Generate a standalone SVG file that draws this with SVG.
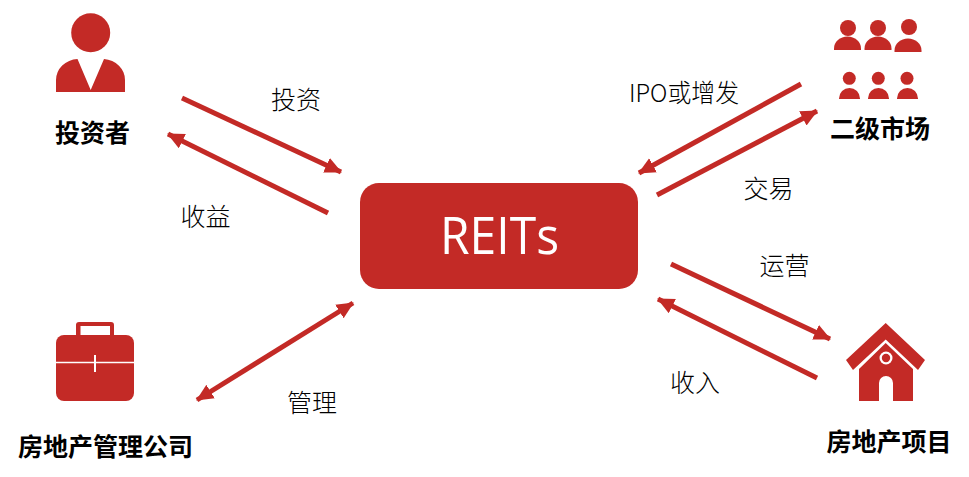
<svg xmlns="http://www.w3.org/2000/svg" width="969" height="477" viewBox="0 0 969 477">
<style>
  .red { fill: #c32a26; }
  .link { stroke: #c32a26; stroke-width: 5; fill: none; }
  text { font-family: "Noto Sans CJK SC", "Noto Sans", sans-serif; fill: #000; }
  .lab { font-size: 25px; font-weight: 300; }
  .name { font-size: 25px; font-weight: 700; }
</style>
<defs>
  <marker id="tip" markerUnits="userSpaceOnUse" markerWidth="18" markerHeight="18" refX="16" refY="8" orient="auto-start-reverse">
    <path d="M0 0L17 8L0 16Z" fill="#c32a26"/>
  </marker>
  <path id="b1" d="M-13.5 11.5V10A13.5 12 0 0 1 13.500 10V11.500Z"/>
  <path id="b2" d="M-10.500 5.500V5A10.500 10.500 0 0 1 10.500 5V5.500Z"/>
</defs>
<rect width="969" height="477" fill="#fff"/>

<g id="connectors">
  <line class="link" x1="182" y1="98" x2="341" y2="172" marker-end="url(#tip)"/>
  <line class="link" x1="328" y1="213" x2="168" y2="134" marker-end="url(#tip)"/>
  <line class="link" x1="801" y1="84" x2="639" y2="173" marker-end="url(#tip)"/>
  <line class="link" x1="657" y1="195" x2="817" y2="111" marker-end="url(#tip)"/>
  <line class="link" x1="671" y1="264" x2="830" y2="339" marker-end="url(#tip)"/>
  <line class="link" x1="817" y1="378" x2="658" y2="299" marker-end="url(#tip)"/>
  <line class="link" x1="197" y1="400" x2="353" y2="303" marker-start="url(#tip)" marker-end="url(#tip)"/>
</g>

<g id="reits">
  <rect class="red" x="360" y="183" width="278" height="106" rx="19"/>
  <text x="440" y="254" textLength="119" lengthAdjust="spacingAndGlyphs" style="font-family:'Open Sans','Noto Sans',sans-serif;font-size:52px;font-weight:500;fill:#fff">REITs</text>
</g>

<g id="investor">
  <circle class="red" cx="90.700" cy="32.700" r="19.500"/>
  <path class="red" d="M56 92V80A23 21 0 0 1 77.500 59L90.700 90L104 59A23 21 0 0 1 125 80V92Z"/>
  <text class="name" x="92.500" y="142" text-anchor="middle">投资者</text>
</g>

<g id="market">
  <g class="red">
    <circle cx="848" cy="28" r="8"/><use href="#b1" x="847.500" y="38.500"/>
    <circle cx="878" cy="28" r="8"/><use href="#b1" x="878" y="38.500"/>
    <circle cx="909" cy="27" r="8"/><use href="#b1" x="908" y="40.500"/>
    <circle cx="849.300" cy="78.300" r="6.500"/><use href="#b2" x="849.500" y="93.500"/>
    <circle cx="878.300" cy="78.300" r="6.500"/><use href="#b2" x="878.500" y="93.500"/>
    <circle cx="907" cy="78.300" r="6.500"/><use href="#b2" x="907.500" y="93.500"/>
  </g>
  <text class="name" x="880" y="138" text-anchor="middle">二级市场</text>
</g>

<g id="manager">
  <path class="red" fill-rule="evenodd" d="M76 336V325Q76 322 79 322H111Q114 322 114 325V336H110V326H80.500V336Z"/>
  <rect class="red" x="56" y="335" width="78" height="66" rx="8"/>
  <path d="M56 362.500H134" stroke="#fff" stroke-width="1.500"/>
  <path d="M95 355V372" stroke="#fff" stroke-width="2"/>
  <text class="name" x="105.500" y="456" text-anchor="middle">房地产管理公司</text>
</g>

<g id="project">
  <path class="red" d="M885.700 323L925 360L918 370L885.700 339.500L853 370L846 360Z"/>
  <path class="red" fill-rule="evenodd" d="M885.700 343L913 369V401H893V383A7 7 0 0 0 879 383V401H859V369Z"/>
  <circle cx="886" cy="358" r="6.500" fill="#fff"/>
  <circle class="red" cx="886" cy="358" r="4.200"/>
  <text class="name" x="889" y="451" text-anchor="middle">房地产项目</text>
</g>

<g id="labels">
  <text class="lab" x="296" y="109" text-anchor="middle">投资</text>
  <text class="lab" x="205.500" y="226" text-anchor="middle">收益</text>
  <text class="lab" x="629" y="102" textLength="110" lengthAdjust="spacingAndGlyphs">IPO或增发</text>
  <text class="lab" x="768.500" y="198" text-anchor="middle">交易</text>
  <text class="lab" x="784.500" y="275" text-anchor="middle">运营</text>
  <text class="lab" x="695" y="392" text-anchor="middle">收入</text>
  <text class="lab" x="312" y="412" text-anchor="middle">管理</text>
</g>
</svg>
